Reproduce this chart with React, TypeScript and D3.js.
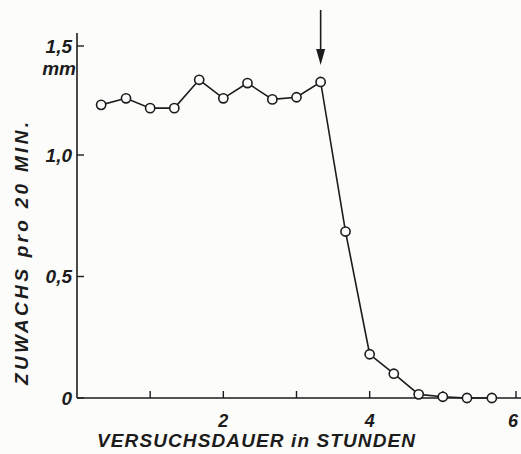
import React from "react";
import * as d3 from "d3";

// Versuchsdauer (Stunden), Messung alle 20 Minuten
const hours = [0.33, 0.67, 1.0, 1.33, 1.67, 2.0, 2.33, 2.67, 3.0, 3.33, 3.67, 4.0, 4.33, 4.67, 5.0, 5.33, 5.67];
// Zuwachs pro 20 Min. (mm)
const growth = [1.23, 1.26, 1.215, 1.215, 1.345, 1.26, 1.33, 1.255, 1.265, 1.335, 0.685, 0.18, 0.1, 0.015, 0.005, 0, 0];

const xTicks = [1, 2, 3, 4, 5, 6];
const xTickLabels = ["", "2", "", "4", "", "6"];
const yTicks = [0, 0.5, 1.0, 1.5];
const yTickLabels = ["0", "0,5", "1,0", "1,5"];
const arrowAt = 3.33;

const width = 521,
  height = 454;

const ink = "#1c1c1c";
const paper = "#fcfcfb";
const font = "'Liberation Sans', Arial, sans-serif";

export default function App() {
  const x = d3.scaleLinear().domain([0, 6]).range([77, 516]);
  // the printed axis is slightly compressed above 1.0
  const y = d3.scaleLinear().domain([0, 1, 1.5]).range([398, 155, 46]);

  const line = d3
    .line<number>()
    .x((d, i) => x(hours[i]))
    .y((d) => y(d));

  const ax = x(arrowAt);

  return (
    <svg
      width={width}
      height={height}
      style={{ position: "absolute", left: 0, top: 0, background: paper }}
    >
      {/* axes */}
      <line x1={x(0)} x2={x(0)} y1={y(0)} y2={33} stroke={ink} strokeWidth={1.6} />
      <line x1={x(0)} x2={width} y1={y(0)} y2={y(0)} stroke={ink} strokeWidth={1.6} />

      {yTicks.map((t, i) => (
        <g key={"y" + t}>
          <line x1={x(0)} x2={x(0) + 7} y1={y(t)} y2={y(t)} stroke={ink} strokeWidth={1.4} />
          <text
            x={72}
            y={y(t)}
            dy="0.35em"
            textAnchor="end"
            fontFamily={font}
            fontStyle="italic"
            fontWeight="bold"
            fontSize={19}
            fill={ink}
          >
            {yTickLabels[i]}
          </text>
        </g>
      ))}
      <text
        x={76}
        y={75}
        textAnchor="end"
        fontFamily={font}
        fontStyle="italic"
        fontWeight="bold"
        fontSize={19}
        fill={ink}
      >
        mm
      </text>

      {xTicks.map((t, i) => (
        <g key={"x" + t}>
          <line x1={x(t)} x2={x(t)} y1={y(0)} y2={y(0) - 7} stroke={ink} strokeWidth={1.4} />
          <text
            x={t === 6 ? x(t) - 3 : x(t)}
            y={427}
            textAnchor="middle"
            fontFamily={font}
            fontStyle="italic"
            fontWeight="bold"
            fontSize={18}
            fill={ink}
          >
            {xTickLabels[i]}
          </text>
        </g>
      ))}

      {/* axis titles */}
      <text
        x={97}
        y={447}
        textLength={318}
        lengthAdjust="spacing"
        fontFamily={font}
        fontStyle="italic"
        fontWeight="bold"
        fontSize={19}
        fill={ink}
      >
        VERSUCHSDAUER in STUNDEN
      </text>
      <text
        transform={`translate(28,${385}) rotate(-90)`}
        textLength={263}
        lengthAdjust="spacing"
        fontFamily={font}
        fontStyle="italic"
        fontWeight="bold"
        fontSize={19}
        fill={ink}
      >
        ZUWACHS pro 20 MIN.
      </text>

      {/* data */}
      <path d={line(growth) || ""} fill="none" stroke={ink} strokeWidth={1.6} />
      {growth.map((v, i) => (
        <circle
          key={i}
          cx={x(hours[i])}
          cy={y(v)}
          r={4.6}
          fill={paper}
          stroke={ink}
          strokeWidth={1.6}
        />
      ))}

      {/* arrow */}
      <line x1={ax} x2={ax} y1={10} y2={52} stroke={ink} strokeWidth={1.6} />
      <path d={`M${ax - 4.5},${49} L${ax + 4.5},${49} L${ax},${65} Z`} fill={ink} />
    </svg>
  );
}
